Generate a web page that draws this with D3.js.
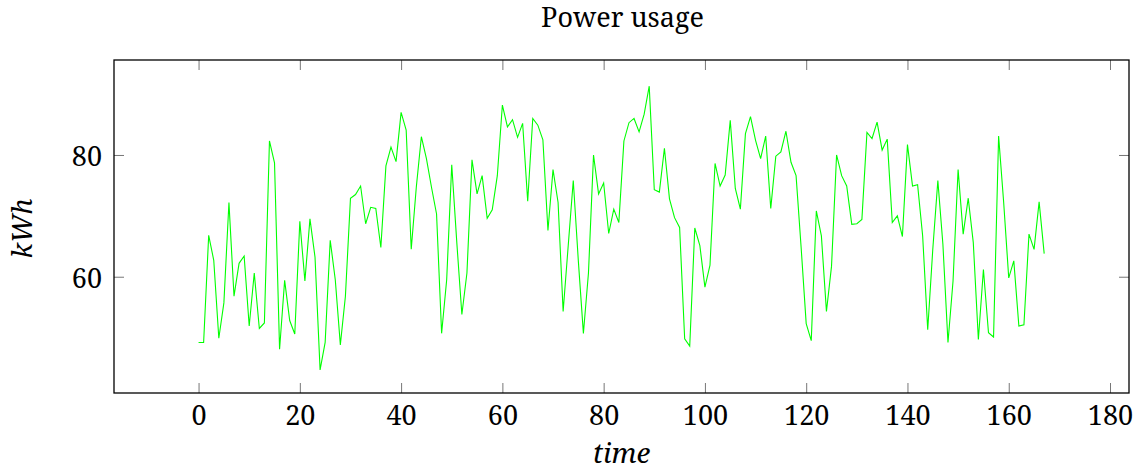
<!DOCTYPE html>
<html>
<head>
<meta charset="utf-8">
<script src="https://cdn.jsdelivr.net/npm/d3@7"></script>
<style>
  html, body { margin: 0; padding: 0; background: #fff; }
  svg { display: block; }
</style>
</head>
<body>
<svg id="chart" width="1134" height="469"></svg>
<script>
const title = "Power usage";
const xLabel = "time";
const yLabel = "kWh";
const xTicks = [0, 20, 40, 60, 80, 100, 120, 140, 160, 180];
const yTicks = [60, 80];
const usage = [
  49.2, 49.2, 66.8, 62.7, 49.9, 55.7, 72.2, 56.8, 62.2, 63.4,
  51.9, 60.6, 51.5, 52.4, 82.3, 78.7, 48.1, 59.4, 52.8, 50.6,
  69.1, 59.3, 69.5, 63.2, 44.7, 49.2, 66.0, 59.5, 48.8, 56.8,
  72.9, 73.5, 74.9, 68.7, 71.4, 71.2, 64.8, 78.2, 81.3, 78.9,
  87.0, 84.1, 64.5, 74.7, 83.0, 79.4, 74.7, 70.3, 50.7, 59.5,
  78.4, 65.6, 53.8, 60.6, 79.2, 73.6, 76.6, 69.6, 71.0, 76.6,
  88.2, 84.6, 85.8, 82.9, 85.2, 72.4, 86.0, 84.9, 82.5, 67.6,
  77.6, 72.2, 54.3, 65.1, 75.8, 62.6, 50.7, 60.6, 80.0, 73.6,
  75.4, 67.1, 71.1, 68.9, 82.3, 85.3, 86.0, 83.8, 86.7, 91.3,
  74.3, 73.9, 81.1, 72.8, 69.7, 68.1, 49.8, 48.6, 68.0, 65.1,
  58.3, 61.9, 78.6, 74.9, 76.7, 85.7, 74.5, 71.1, 83.5, 86.3,
  82.4, 79.4, 83.1, 71.2, 79.8, 80.5, 83.9, 78.8, 76.6, 64.8,
  52.3, 49.5, 70.8, 66.7, 54.3, 61.7, 80.0, 76.6, 74.9, 68.6,
  68.7, 69.4, 83.7, 82.7, 85.4, 80.8, 82.6, 68.9, 70.0, 66.6,
  81.7, 74.9, 75.1, 66.7, 51.3, 64.5, 75.8, 65.3, 49.2, 59.3,
  77.6, 67.0, 72.9, 65.6, 49.7, 61.2, 50.8, 50.1, 83.1, 72.2,
  59.8, 62.6, 51.9, 52.1, 67.0, 64.5, 72.3, 63.8
];
const times = usage.map((d, i) => i);

const FONT = "'serif'";
const svg = d3.select("#chart");
const L = 114, R = 1129, T = 60, B = 393;

const x = d3.scaleLinear().domain([-16.7, 183.75]).range([L, R]);
const y = d3.scaleLinear().domain([40.9, 95.6]).range([B, T]);

const tickLen = 10;

const gx = svg.append("g").attr("transform", `translate(0,${B})`)
  .call(d3.axisBottom(x).tickValues(xTicks).tickSize(-tickLen).tickFormat(d3.format("d")));
const gxt = svg.append("g").attr("transform", `translate(0,${T})`)
  .call(d3.axisTop(x).tickValues(xTicks).tickSize(-tickLen).tickFormat(""));
const gy = svg.append("g").attr("transform", `translate(${L},0)`)
  .call(d3.axisLeft(y).tickValues(yTicks).tickSize(-tickLen).tickPadding(12).tickFormat(d3.format("d")));
const gyr = svg.append("g").attr("transform", `translate(${R},0)`)
  .call(d3.axisRight(y).tickValues(yTicks).tickSize(-tickLen).tickFormat(""));

[gx, gxt, gy, gyr].forEach(g => {
  g.attr("font-family", null).attr("font-size", null);
  g.select(".domain").remove();
  g.selectAll(".tick line").attr("stroke", "#777").attr("stroke-width", 1);
  g.selectAll(".tick text").style("font-family", FONT).style("font-size", "27px").style("fill", "#000");
});
gx.selectAll(".tick text").attr("dy", 0).attr("y", 32);
gy.selectAll(".tick text").attr("dy", 11);

svg.append("rect").attr("x", L).attr("y", T).attr("width", R - L).attr("height", B - T)
  .attr("fill", "none").attr("stroke", "#000").attr("stroke-width", 1.3);

const line = d3.line().x((d, i) => x(times[i])).y(d => y(d));
svg.append("path").datum(usage)
  .attr("d", line).attr("fill", "none").attr("stroke", "#00ff00").attr("stroke-width", 1.1);

svg.append("text").attr("x", (L + R) / 2 + 1).attr("y", 27).attr("text-anchor", "middle")
  .style("font-family", FONT).style("font-size", "27px").text(title);

svg.append("text").attr("x", (L + R) / 2).attr("y", 463).attr("text-anchor", "middle")
  .style("font-family", FONT).style("font-size", "28px").style("font-style", "italic")
  .text(xLabel);

svg.append("text").attr("transform", `translate(32,${(T + B) / 2 + 2}) rotate(-90)`)
  .attr("text-anchor", "middle")
  .style("font-family", FONT).style("font-size", "27px").style("font-style", "italic")
  .text(yLabel);
</script>
</body>
</html>
